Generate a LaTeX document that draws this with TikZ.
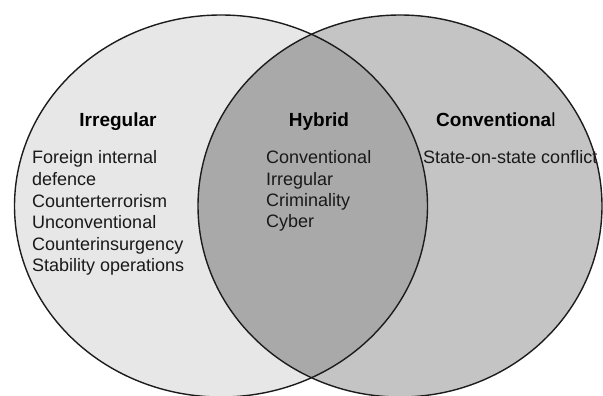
\documentclass[tikz,border=0pt]{standalone}
\usepackage{fontspec}
\setmainfont{Liberation Sans}
\definecolor{leftfill}{HTML}{E7E7E7}
\definecolor{rightfill}{HTML}{C4C4C4}
\definecolor{lensfill}{HTML}{A9A9A9}
\definecolor{outline}{HTML}{1C1C1C}
\tikzset{
  heading/.style={inner sep=0pt, font=\fontsize{19}{21}\selectfont\bfseries, text=black},
  body/.style={inner sep=0pt, font=\fontsize{18}{21}\selectfont, text=black!90, anchor=base west},
  ring/.style={draw=outline, line width=1.4pt},
}
\begin{document}
\begin{tikzpicture}[x=1pt,y=-1pt]
\useasboundingbox (0,0) rectangle (603,396);
\coordinate (cl) at (221,206);
\coordinate (cr) at (400,206);
% fills
\fill[leftfill] (cl) ellipse [x radius=206.5, y radius=191];
\fill[rightfill] (cr) ellipse [x radius=202, y radius=191];
\begin{scope}
  \clip (cl) ellipse [x radius=206.5, y radius=191];
  \fill[lensfill] (cr) ellipse [x radius=202, y radius=191];
\end{scope}
% outlines
\draw[ring] (cl) ellipse [x radius=206.5, y radius=191];
\draw[ring] (cr) ellipse [x radius=202, y radius=191];
% headings
\node[heading, anchor=base] (hirr) at (118,126) {Irregular};
\node[heading, anchor=base] (hhyb) at (319,127) {Hybrid};
\node[heading, anchor=base west] (hconv) at (436,127) {Conventiona\mdseries l};
% lists
\foreach \t [count=\i] in {Foreign internal, defence, Counterterrorism, Unconventional, Counterinsurgency, Stability operations}
  \node[body, name=irr\i] at (32,{164+21.5*(\i-1)}) {\t};
\foreach \t [count=\i] in {Conventional, Irregular, Criminality, Cyber}
  \node[body, name=hyb\i] at (266,{164+21.2*(\i-1)}) {\t};
\node[body] (conv1) at (423,163) {State-on-state conflict};
\end{tikzpicture}
\end{document}
